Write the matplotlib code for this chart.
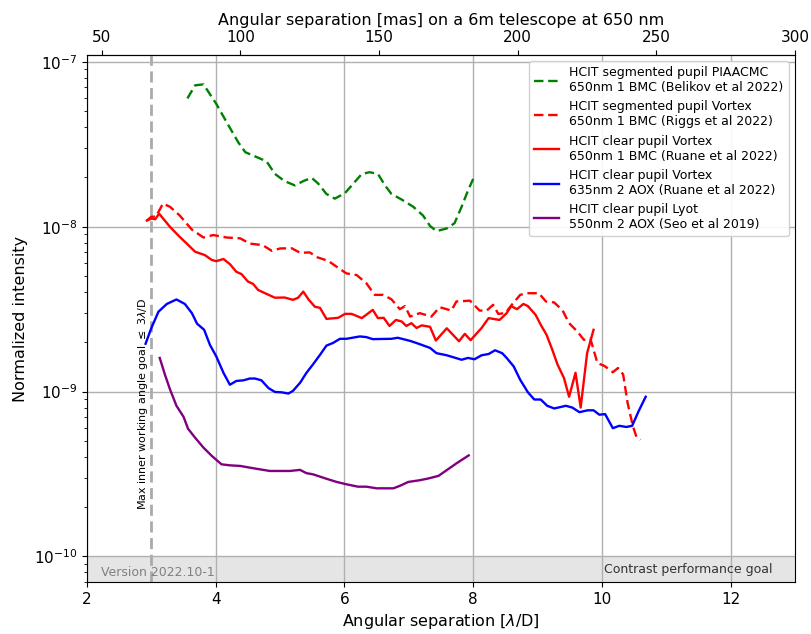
import numpy as np
import matplotlib
matplotlib.use("Agg")
import matplotlib.pyplot as plt

# top axis: mas at x=2 and x=13
MAS_LEFT = 44.7
MAS_RIGHT = 300.0

# HCIT segmented pupil PIAACMC (Belikov 2022)
piaa_x = [3.56, 3.68, 3.81, 4.01, 4.17, 4.35, 4.46, 4.64, 4.79, 4.92, 5.07, 5.23, 5.36, 5.49, 5.59,
          5.72, 5.85, 6.01, 6.14, 6.27, 6.39, 6.52, 6.63, 6.73, 6.89, 7.07, 7.22, 7.33, 7.43, 7.59,
          7.71, 7.82, 7.92, 8.00]
piaa_y = [6.0e-8, 7.2e-8, 7.3e-8, 5.55e-8, 4.3e-8, 3.25e-8, 2.83e-8, 2.64e-8, 2.49e-8, 2.09e-8, 1.89e-8,
          1.78e-8, 1.89e-8, 1.98e-8, 1.83e-8, 1.58e-8, 1.48e-8, 1.60e-8, 1.83e-8, 2.09e-8, 2.14e-8,
          2.09e-8, 1.78e-8, 1.58e-8, 1.46e-8, 1.32e-8, 1.17e-8, 1.01e-8, 9.4e-9, 9.76e-9, 1.05e-8,
          1.32e-8, 1.66e-8, 1.95e-8]

# HCIT segmented pupil Vortex (Riggs 2022)
segvx_x = [2.93, 3.00, 3.07, 3.18, 3.29, 3.44, 3.63, 3.81, 3.96, 4.17, 4.38, 4.53, 4.73, 4.87, 5.00,
           5.18, 5.31, 5.46, 5.58, 5.75, 5.88, 6.03, 6.19, 6.34, 6.47, 6.60, 6.73, 6.86, 6.94, 7.02,
           7.17, 7.35, 7.48, 7.66, 7.74, 7.95, 8.10, 8.21, 8.31, 8.39, 8.50, 8.60, 8.73, 8.84, 9.02,
           9.13, 9.26, 9.39, 9.49, 9.62, 9.72, 9.82, 9.93, 10.04, 10.17, 10.25, 10.33, 10.40, 10.48,
           10.53, 10.60]
segvx_y = [1.09e-8, 1.15e-8, 1.15e-8, 1.38e-8, 1.32e-8, 1.17e-8, 9.6e-9, 8.6e-9, 8.9e-9, 8.6e-9, 8.5e-9,
           7.9e-9, 7.73e-9, 7.14e-9, 7.38e-9, 7.4e-9, 6.95e-9, 6.98e-9, 6.52e-9, 6.2e-9, 5.71e-9, 5.21e-9,
           5.09e-9, 4.54e-9, 3.86e-9, 3.86e-9, 3.63e-9, 3.16e-9, 3.3e-9, 2.85e-9, 2.99e-9, 2.85e-9,
           3.25e-9, 3.1e-9, 3.52e-9, 3.56e-9, 3.1e-9, 3.1e-9, 3.36e-9, 2.96e-9, 2.99e-9, 3.36e-9,
           3.86e-9, 3.95e-9, 3.95e-9, 3.52e-9, 3.47e-9, 3.1e-9, 2.6e-9, 2.31e-9, 2.06e-9, 2.1e-9,
           1.49e-9, 1.43e-9, 1.31e-9, 1.39e-9, 1.27e-9, 8.5e-10, 6.2e-10, 5.4e-10, 5.1e-10]

# HCIT clear pupil Vortex 650nm (Ruane 2022)
clr650_x = [2.93, 3.00, 3.06, 3.12, 3.29, 3.44, 3.55, 3.68, 3.83, 3.94, 4.01, 4.12, 4.22, 4.32, 4.40,
            4.50, 4.58, 4.66, 4.79, 4.92, 5.07, 5.20, 5.28, 5.36, 5.44, 5.54, 5.62, 5.72, 5.90, 6.01,
            6.11, 6.27, 6.44, 6.52, 6.61, 6.70, 6.80, 6.89, 6.96, 7.04, 7.12, 7.20, 7.33, 7.42, 7.59,
            7.78, 7.87, 7.96, 8.13, 8.24, 8.41, 8.52, 8.59, 8.68, 8.78, 8.85, 8.97, 9.05, 9.14, 9.23,
            9.31, 9.41, 9.49, 9.59, 9.67, 9.77, 9.87]
clr650_y = [1.09e-8, 1.12e-8, 1.11e-8, 1.2e-8, 9.97e-9, 8.68e-9, 7.9e-9, 7.05e-9, 6.73e-9, 6.28e-9, 6.18e-9,
            6.37e-9, 5.93e-9, 5.33e-9, 5.16e-9, 4.65e-9, 4.5e-9, 4.13e-9, 3.91e-9, 3.71e-9, 3.72e-9,
            3.6e-9, 3.71e-9, 4.04e-9, 3.63e-9, 3.27e-9, 3.22e-9, 2.76e-9, 2.8e-9, 2.96e-9, 2.96e-9,
            2.79e-9, 3.13e-9, 2.79e-9, 2.8e-9, 2.5e-9, 2.72e-9, 2.66e-9, 2.5e-9, 2.6e-9, 2.43e-9,
            2.52e-9, 2.47e-9, 2.04e-9, 2.42e-9, 2.02e-9, 2.24e-9, 2.05e-9, 2.43e-9, 2.79e-9, 2.72e-9,
            2.99e-9, 3.3e-9, 3.16e-9, 3.4e-9, 3.3e-9, 2.92e-9, 2.54e-9, 2.21e-9, 1.79e-9, 1.46e-9,
            1.21e-9, 9.3e-10, 1.3e-9, 8.0e-10, 1.71e-9, 2.37e-9]

# HCIT clear pupil Vortex 635nm (Ruane 2022)
clr635_x = [2.91, 3.00, 3.11, 3.24, 3.39, 3.52, 3.63, 3.71, 3.82, 3.91, 4.01, 4.12, 4.22, 4.32, 4.43,
            4.53, 4.61, 4.71, 4.82, 4.92, 5.02, 5.13, 5.20, 5.31, 5.41, 5.51, 5.62, 5.72, 5.82, 5.93,
            6.03, 6.24, 6.34, 6.44, 6.73, 6.83, 7.02, 7.12, 7.33, 7.43, 7.59, 7.82, 7.92, 8.02, 8.13,
            8.24, 8.34, 8.45, 8.52, 8.63, 8.73, 8.85, 8.95, 9.05, 9.15, 9.26, 9.44, 9.54, 9.65, 9.78,
            9.87, 9.96, 10.05, 10.17, 10.27, 10.38, 10.47, 10.57, 10.68]
clr635_y = [1.95e-9, 2.43e-9, 3.05e-9, 3.4e-9, 3.62e-9, 3.4e-9, 2.99e-9, 2.58e-9, 2.37e-9, 1.92e-9, 1.63e-9,
            1.3e-9, 1.1e-9, 1.16e-9, 1.17e-9, 1.2e-9, 1.2e-9, 1.17e-9, 1.05e-9, 9.95e-10, 9.9e-10,
            9.73e-10, 1.01e-9, 1.13e-9, 1.3e-9, 1.46e-9, 1.67e-9, 1.9e-9, 1.97e-9, 2.09e-9, 2.09e-9,
            2.16e-9, 2.14e-9, 2.08e-9, 2.09e-9, 2.12e-9, 2.03e-9, 1.97e-9, 1.84e-9, 1.71e-9, 1.66e-9,
            1.56e-9, 1.6e-9, 1.57e-9, 1.66e-9, 1.69e-9, 1.78e-9, 1.71e-9, 1.6e-9, 1.42e-9, 1.18e-9,
            9.9e-10, 8.95e-10, 8.95e-10, 8.2e-10, 7.9e-10, 8.2e-10, 8.0e-10, 7.5e-10, 7.7e-10, 7.7e-10,
            7.24e-10, 7.3e-10, 6.0e-10, 6.2e-10, 6.1e-10, 6.2e-10, 7.6e-10, 9.3e-10]

# HCIT clear pupil Lyot (Seo 2019)
lyot_x = [3.13, 3.21, 3.29, 3.39, 3.50, 3.57, 3.68, 3.81, 3.94, 4.09, 4.22, 4.38, 4.58, 4.84, 5.15,
          5.31, 5.41, 5.51, 5.72, 5.88, 6.03, 6.21, 6.34, 6.50, 6.76, 6.86, 6.99, 7.17, 7.30, 7.46,
          7.59, 7.74, 7.93]
lyot_y = [1.6e-9, 1.27e-9, 1.03e-9, 8.2e-10, 7.03e-10, 5.95e-10, 5.25e-10, 4.57e-10, 4.07e-10, 3.62e-10,
          3.57e-10, 3.54e-10, 3.43e-10, 3.3e-10, 3.3e-10, 3.35e-10, 3.2e-10, 3.15e-10, 2.96e-10, 2.83e-10,
          2.74e-10, 2.65e-10, 2.65e-10, 2.59e-10, 2.59e-10, 2.68e-10, 2.83e-10, 2.9e-10, 2.97e-10,
          3.08e-10, 3.34e-10, 3.67e-10, 4.1e-10]

labels = [
    "HCIT segmented pupil PIAACMC\n650nm 1 BMC (Belikov et al 2022)",
    "HCIT segmented pupil Vortex\n650nm 1 BMC (Riggs et al 2022)",
    "HCIT clear pupil Vortex\n650nm 1 BMC (Ruane et al 2022)",
    "HCIT clear pupil Vortex\n635nm 2 AOX (Ruane et al 2022)",
    "HCIT clear pupil Lyot\n550nm 2 AOX (Seo et al 2019)",
]
top_ticks = [50, 100, 150, 200, 250, 300]

XMIN, XMAX = 2, 13
slope = (MAS_RIGHT - MAS_LEFT) / (XMAX - XMIN)


def to_mas(x):
    return MAS_LEFT + (np.asarray(x) - XMIN) * slope


def from_mas(m):
    return XMIN + (np.asarray(m) - MAS_LEFT) / slope


fig = plt.figure(figsize=(8.12, 6.34), dpi=100)
ax = fig.add_axes([87/812, 1 - 582/634, (795-87)/812, (582-55)/634])

ax.set_yscale('log')
ax.set_xlim(XMIN, XMAX)
ax.set_ylim(7e-11, 1.1e-7)

ax.grid(True, which='major', color='#b0b0b0', lw=1.0, zorder=0)
ax.axhspan(7e-11, 1e-10, color='#e5e5e5', zorder=0.5, lw=0)
ax.axvline(3, color='#aaaaaa', ls=(0, (4, 2)), lw=2, zorder=1)

lw = 1.7
dash = (0, (4, 2))
ax.plot(piaa_x, piaa_y, color='green', ls=dash, lw=lw, label=labels[0], zorder=3)
ax.plot(segvx_x, segvx_y, color='red', ls=dash, lw=lw, label=labels[1], zorder=3)
ax.plot(clr650_x, clr650_y, color='red', ls='-', lw=lw, label=labels[2], zorder=3)
ax.plot(clr635_x, clr635_y, color='blue', ls='-', lw=lw, label=labels[3], zorder=3)
ax.plot(lyot_x, lyot_y, color='purple', ls='-', lw=lw, label=labels[4], zorder=3)

ax.text(2.87, 1.9e-10, r"Max inner working angle goal $\leq$ 3$\lambda$/D", rotation=90,
        fontsize=8, ha='center', va='bottom', zorder=4)
ax.text(2.22, 8.0e-11, "Version 2022.10-1", color='gray', fontsize=9, va='center', ha='left')
ax.text(12.65, 8.3e-11, "Contrast performance goal", color='#333333', fontsize=9, va='center', ha='right')

ax.set_xlabel(r"Angular separation [$\lambda$/D]", fontsize=11.5)
ax.set_ylabel("Normalized intensity", fontsize=11.5)
ax.tick_params(labelsize=11)
ax.set_xticks([2, 4, 6, 8, 10, 12])

sec = ax.secondary_xaxis('top', functions=(to_mas, from_mas))
sec.set_xticks(top_ticks)
sec.set_xlabel("Angular separation [mas] on a 6m telescope at 650 nm", fontsize=11.5)
sec.tick_params(labelsize=11)

ax.legend(loc='upper right', fontsize=9, framealpha=0.9)

fig.savefig("out.png", dpi=100)
